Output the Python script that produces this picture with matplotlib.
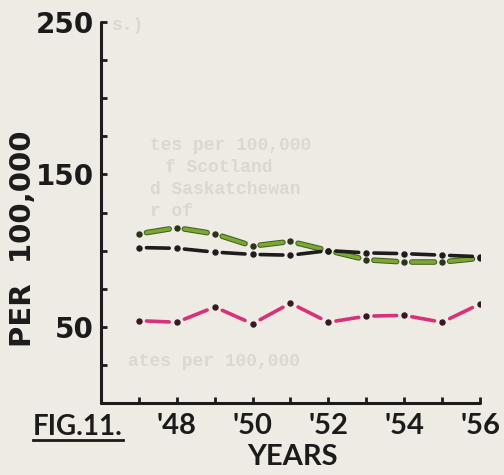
import matplotlib
matplotlib.use("Agg")
import matplotlib.pyplot as plt
import matplotlib.patheffects as pe
import numpy as np

# Rates per 100,000, 1947-1956
years = [47, 48, 49, 50, 51, 52, 53, 54, 55, 56]
green_rates = [111, 115, 111, 103, 106, 100, 94, 92.5, 92.5, 95]
black_rates = [102, 101.5, 99, 97.5, 97, 100, 98.5, 98, 97, 96]
pink_rates = [54, 53, 63, 52, 65.5, 53, 57, 57.5, 53, 65]

year_ticks = [47, 48, 49, 50, 51, 52, 53, 54, 55, 56]
year_labels = ["", "'48", "", "'50", "", "'52", "", "'54", "", "'56"]
rate_ticks = [25, 50, 75, 100, 125, 150, 175, 200, 225, 250]
rate_labels = ["", "50", "", "", "", "150", "", "", "", "250"]

# typescript showing through from the back of the sheet
show_through = [
    (112, 30, "s.)"),
    (150, 150, "tes per 100,000"),
    (165, 172, "f Scotland"),
    (150, 194, "d Saskatchewan"),
    (150, 216, "r of"),
    (128, 366, "ates per 100,000"),
]

PAPER = "#edebe3"
GHOST = "#dad8d0"
INK = "#1c1a1a"
XFONT = "Lato"
YFONT = "DejaVu Sans"

W, H = 504, 475
fig = plt.figure(figsize=(W / 100, H / 100), dpi=100, facecolor=PAPER)


def fx(px):
    return px / W


def fy(py):
    return 1 - py / H


for x, y, s in show_through:
    fig.text(fx(x), fy(y), s, ha="left", va="baseline", fontsize=13,
             family="Liberation Mono", fontweight="bold", color=GHOST, zorder=0)

ax = fig.add_axes([fx(101), fy(403), (480 - 101) / W, (403 - 22) / H])
ax.set_facecolor("none")
ax.set_xlim(46, 56)
ax.set_ylim(0, 250)

for side in ("top", "right"):
    ax.spines[side].set_visible(False)
for side in ("left", "bottom"):
    ax.spines[side].set_color(INK)
    ax.spines[side].set_linewidth(2.2)
    ax.spines[side].set_capstyle("round")

ax.set_xticks(year_ticks)
ax.set_xticklabels(year_labels)
ax.set_yticks(rate_ticks)
ax.set_yticklabels(rate_labels)
ax.tick_params(direction="in", length=4, width=2, color=INK, labelcolor=INK)
ax.tick_params(axis="x", pad=7, labelsize=21)
ax.tick_params(axis="y", pad=5, labelsize=20)
for lab in ax.get_xticklabels():
    lab.set_fontfamily(XFONT)
    lab.set_fontweight("bold")
for lab in ax.get_yticklabels():
    lab.set_fontfamily(YFONT)
    lab.set_fontweight("bold")


def dash_dot(xs, ys, color, lw, dot_color, outline=None):
    """One dash in the middle of each segment, a dot on each data point."""
    xs = np.asarray(xs, float)
    ys = np.asarray(ys, float)
    seg_x, seg_y = [], []
    for i in range(len(xs) - 1):
        x0, x1 = xs[i], xs[i + 1]
        y0, y1 = ys[i], ys[i + 1]
        seg_x += [x0 + 0.2 * (x1 - x0), x0 + 0.8 * (x1 - x0), np.nan]
        seg_y += [y0 + 0.2 * (y1 - y0), y0 + 0.8 * (y1 - y0), np.nan]
    effects = None
    if outline is not None:
        effects = [pe.Stroke(linewidth=lw + 1.4, foreground=outline), pe.Normal()]
    ax.plot(seg_x, seg_y, color=color, lw=lw, solid_capstyle="round",
            path_effects=effects, zorder=3)
    ax.plot(xs, ys, linestyle="none", marker="o", markersize=3.6,
            color=dot_color, zorder=4)


dash_dot(years, green_rates, "#7aa832", 2.6, "#2c3318", outline="#3f5a1c")
dash_dot(years, black_rates, "#1e1c1c", 2.6, "#1e1c1c")
dash_dot(years, pink_rates, "#d8307a", 2.6, "#3a1822")

# axis titles
fig.text(fx(23), fy(239), "PER  100,000", rotation=90, ha="center", va="center",
         fontsize=21, fontweight="bold", family=YFONT, color=INK)
fig.text(fx(292), fy(457), "YEARS", ha="center", va="center",
         fontsize=21, fontweight="bold", family=XFONT, color=INK)
fig.text(fx(33), fy(435), "FIG.11.", ha="left", va="baseline",
         fontsize=20, fontweight="bold", family=XFONT, color=INK)
fig.add_artist(plt.Line2D([fx(33), fx(123)], [fy(440), fy(440)],
                          color=INK, lw=2, transform=fig.transFigure))

fig.savefig("out.png", dpi=100, facecolor=PAPER)
